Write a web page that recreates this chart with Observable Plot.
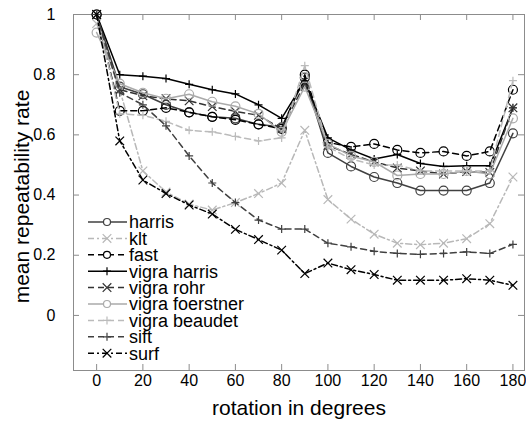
<!DOCTYPE html>
<html><head><meta charset="utf-8">
<script src="https://cdn.jsdelivr.net/npm/d3@7"></script>
<script src="https://cdn.jsdelivr.net/npm/@observablehq/plot@0.6"></script>
<style>html,body{margin:0;padding:0;background:#fff}</style>
</head><body><div id="chart"></div>
<script>
// ---- data ----
const angles = [0,10,20,30,40,50,60,70,80,90,100,110,120,130,140,150,160,170,180];
const harris         = [1.00,0.76,0.735,0.70,0.675,0.66,0.655,0.635,0.625,0.79,0.54,0.495,0.46,0.44,0.415,0.415,0.415,0.44,0.605];
const klt            = [0.97,0.75,0.48,0.41,0.37,0.35,0.375,0.405,0.44,0.615,0.385,0.32,0.27,0.24,0.235,0.24,0.255,0.305,0.46];
const fast           = [1.00,0.68,0.68,0.69,0.675,0.66,0.65,0.635,0.62,0.80,0.575,0.56,0.57,0.55,0.54,0.545,0.53,0.545,0.75];
const vigraHarris    = [1.00,0.80,0.795,0.787,0.768,0.75,0.736,0.70,0.655,0.78,0.59,0.55,0.52,0.535,0.505,0.495,0.497,0.497,0.69];
const vigraRohr      = [1.00,0.75,0.73,0.72,0.713,0.694,0.678,0.665,0.62,0.77,0.565,0.535,0.51,0.49,0.48,0.47,0.478,0.475,0.69];
const vigraFoerstner = [0.94,0.77,0.74,0.72,0.735,0.71,0.695,0.67,0.61,0.76,0.57,0.53,0.51,0.465,0.47,0.47,0.48,0.47,0.655];
const vigraBeaudet   = [1.00,0.67,0.665,0.645,0.615,0.61,0.595,0.58,0.59,0.83,0.56,0.52,0.50,0.50,0.48,0.48,0.48,0.48,0.78];
const sift           = [1.00,0.74,0.70,0.63,0.53,0.44,0.375,0.317,0.287,0.287,0.24,0.228,0.213,0.206,0.203,0.206,0.211,0.206,0.236];
const surf           = [1.00,0.58,0.45,0.405,0.367,0.337,0.286,0.252,0.217,0.139,0.174,0.152,0.136,0.117,0.117,0.117,0.122,0.117,0.10];
const seriesNames  = ["harris","klt","fast","vigra harris","vigra rohr","vigra foerstner","vigra beaudet","sift","surf"];
const seriesValues = [harris,klt,fast,vigraHarris,vigraRohr,vigraFoerstner,vigraBeaudet,sift,surf];
const xTicks = [0,20,40,60,80,100,120,140,160,180];
const yTicks = [0,0.2,0.4,0.6,0.8,1];
const xLabel = "rotation in degrees";
const yLabel = "mean repeatability rate";

// ---- styles ----
const DASH = "6,4", DASHDOT = "6,3,2,3";
const styles = [
  {stroke:"#404040", dash:null,    symbol:"circle", r:4.5},
  {stroke:"#b8b8b8", dash:DASHDOT, symbol:"times",  r:4},
  {stroke:"#000000", dash:DASH,    symbol:"circle", r:4.5},
  {stroke:"#000000", dash:null,    symbol:"plus",   r:2.7},
  {stroke:"#333333", dash:DASH,    symbol:"times",  r:4},
  {stroke:"#aaaaaa", dash:null,    symbol:"circle", r:4.5},
  {stroke:"#bbbbbb", dash:DASH,    symbol:"plus",   r:2.7},
  {stroke:"#404040", dash:DASH,    symbol:"plus",   r:2.7},
  {stroke:"#000000", dash:DASHDOT, symbol:"times",  r:4}
];

const rows = seriesNames.flatMap((name, i) => angles.map((a, j) => ({series: name, angle: a, rate: seriesValues[i][j]})));

const W = 526, H = 426, mL = 73, mR = 2, mT = 14, mB = 56;
const pW = W - mL - mR, pH = H - mT - mB;
const frameColor = "#8c8c8c";
const font = "'Liberation Sans', Arial, sans-serif";

const seriesMarks = seriesNames.flatMap((name, i) => {
  const d = rows.filter(r => r.series === name);
  const s = styles[i];
  return [
    Plot.line(d, {x: "angle", y: "rate", stroke: s.stroke, strokeWidth: 1.5, strokeDasharray: s.dash}),
    Plot.dot(d, {x: "angle", y: "rate", stroke: s.stroke, symbol: s.symbol, r: s.r, strokeWidth: 1.2, fill: "none"})
  ];
});

const plot = Plot.plot({
  width: W, height: H,
  marginLeft: mL, marginRight: mR, marginTop: mT, marginBottom: mB,
  x: {domain: [-10, 185]},
  y: {domain: [-0.183, 1]},
  style: {fontFamily: font, fontSize: "16px", color: "#000", background: "#fff", overflow: "visible"},
  marks: [
    Plot.ruleX(xTicks, {x: d => d, insetTop: pH - 6, stroke: frameColor}),
    Plot.ruleX(xTicks, {x: d => d, insetBottom: pH - 6, stroke: frameColor}),
    Plot.ruleY(yTicks, {y: d => d, insetRight: pW - 6, stroke: frameColor}),
    Plot.ruleY(yTicks, {y: d => d, insetLeft: pW - 6, stroke: frameColor}),
    Plot.frame({stroke: frameColor}),
    Plot.axisX({ticks: xTicks, tickSize: 0, tickPadding: 4, label: null, fontSize: 16, tickFormat: d => String(d)}),
    Plot.axisY({ticks: yTicks, tickSize: 0, tickPadding: 18, label: null, fontSize: 16, tickFormat: d => String(d)}),
    Plot.text([xLabel], {text: d => d, frameAnchor: "bottom", textAnchor: "middle", dy: 44, fontSize: 21}),
    Plot.text([yLabel], {text: d => d, frameAnchor: "left", textAnchor: "middle", rotate: -90, dx: -51, dy: 4, fontSize: 21}),
    ...seriesMarks
  ]
});
document.getElementById("chart").appendChild(plot);

// ---- legend (inside plot, lower-left) ----
const svg = d3.select(plot);
const lg = svg.append("g").attr("font-family", font).attr("font-size", 18).attr("text-anchor", "start");
seriesNames.forEach((name, i) => {
  const s = styles[i];
  const cy = 222 + i * 16.4;
  lg.append("line").attr("x1", 88).attr("x2", 127).attr("y1", cy).attr("y2", cy)
    .attr("stroke", s.stroke).attr("stroke-width", 1.5).attr("stroke-dasharray", s.dash);
  const sym = {circle: d3.symbolCircle, times: d3.symbolTimes, plus: d3.symbolPlus}[s.symbol];
  const rr = s.symbol === "circle" ? 3.5 : s.r;
  lg.append("path").attr("transform", `translate(107,${cy})`)
    .attr("d", d3.symbol(sym, Math.PI * rr * rr)())
    .attr("fill", s.symbol === "circle" ? "#fff" : "none").attr("stroke", s.stroke).attr("stroke-width", 1.2);
  lg.append("text").attr("x", 129).attr("y", cy).attr("dy", "0.36em").attr("text-anchor", "start").attr("fill", "#000").text(name);
});
</script>
</body></html>
